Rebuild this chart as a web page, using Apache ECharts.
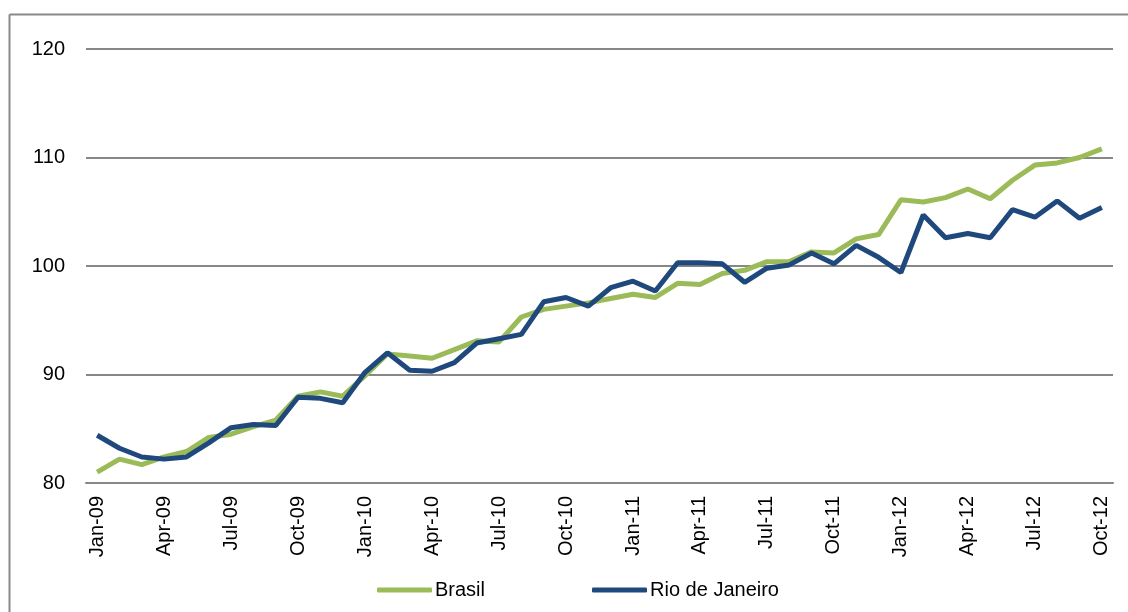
<!DOCTYPE html>
<html>
<head>
<meta charset="utf-8">
<script src="https://cdn.jsdelivr.net/npm/echarts@6/dist/echarts.min.js"></script>
<style>
  html, body { margin: 0; padding: 0; background: #fff; }
  #chart { width: 1128px; height: 612px; }
</style>
</head>
<body>
<div id="chart"></div>
<script>
// monthly, Jan-09 .. Oct-12
var months = ['Jan', 'Feb', 'Mar', 'Apr', 'May', 'Jun', 'Jul', 'Aug', 'Sep', 'Oct', 'Nov', 'Dec'];
var categories = [];
for (var y = 9; y <= 12; y++) {
  for (var m = 0; m < 12; m++) {
    if (y === 12 && m > 9) break;
    categories.push(months[m] + '-' + (y < 10 ? '0' + y : y));
  }
}

var brasil = [81.0, 82.2, 81.7, 82.4, 82.9, 84.2, 84.5, 85.2, 85.8, 88.0, 88.4, 88.0,
  89.9, 91.9, 91.7, 91.5, 92.3, 93.1, 93.0, 95.3, 96.0, 96.3, 96.6, 97.0,
  97.4, 97.1, 98.4, 98.3, 99.3, 99.6, 100.4, 100.4, 101.3, 101.2, 102.5, 102.9,
  106.1, 105.9, 106.3, 107.1, 106.2, 107.9, 109.3, 109.5, 110.0, 110.8];

var rio = [84.4, 83.2, 82.4, 82.2, 82.4, 83.7, 85.1, 85.4, 85.3, 87.9, 87.8, 87.4,
  90.2, 92.0, 90.4, 90.3, 91.1, 92.9, 93.3, 93.7, 96.7, 97.1, 96.3, 98.0,
  98.6, 97.7, 100.3, 100.3, 100.2, 98.5, 99.8, 100.1, 101.2, 100.2, 101.9, 100.8,
  99.4, 104.7, 102.6, 103.0, 102.6, 105.2, 104.5, 106.0, 104.4, 105.4];

var chart = echarts.init(document.getElementById('chart'));
var font = 'Liberation Sans, Arial, sans-serif';

var option = {
  animation: false,
  color: ['#9BBB59', '#1F497D'],
  graphic: [
    { type: 'line', shape: { x1: 9.5, y1: 14.5, x2: 1128, y2: 14.5 }, style: { stroke: '#898989', lineWidth: 2 } },
    { type: 'line', shape: { x1: 9.5, y1: 14.5, x2: 9.5, y2: 612 }, style: { stroke: '#898989', lineWidth: 2 } }
  ],
  legend: {
    left: 372,
    top: 575,
    itemWidth: 55,
    itemHeight: 5,
    itemGap: 107,
    icon: 'roundRect',
    textStyle: { fontFamily: font, fontSize: 20, color: '#000', padding: [0, 0, 0, -2] },
    data: ['Brasil', 'Rio de Janeiro']
  },
  grid: {
    left: 86,
    right: 15,
    top: 49,
    bottom: 129
  },
  xAxis: {
    type: 'category',
    data: categories,
    boundaryGap: true,
    axisTick: { show: false },
    axisLine: { lineStyle: { color: '#878787', width: 2 } },
    axisLabel: {
      interval: 2,
      rotate: 90,
      margin: 13,
      color: '#000',
      fontFamily: font,
      fontSize: 20
    }
  },
  yAxis: {
    type: 'value',
    min: 80,
    max: 120,
    interval: 10,
    axisLine: { show: false },
    axisTick: { show: false },
    axisLabel: { color: '#000', fontFamily: font, fontSize: 20, margin: 21 },
    splitLine: { lineStyle: { color: '#878787', width: 2 } }
  },
  series: [
    {
      name: 'Brasil',
      type: 'line',
      data: brasil,
      showSymbol: false,
      lineStyle: { width: 5 }
    },
    {
      name: 'Rio de Janeiro',
      type: 'line',
      data: rio,
      showSymbol: false,
      lineStyle: { width: 5 }
    }
  ]
};
chart.setOption(option);
</script>
</body>
</html>
